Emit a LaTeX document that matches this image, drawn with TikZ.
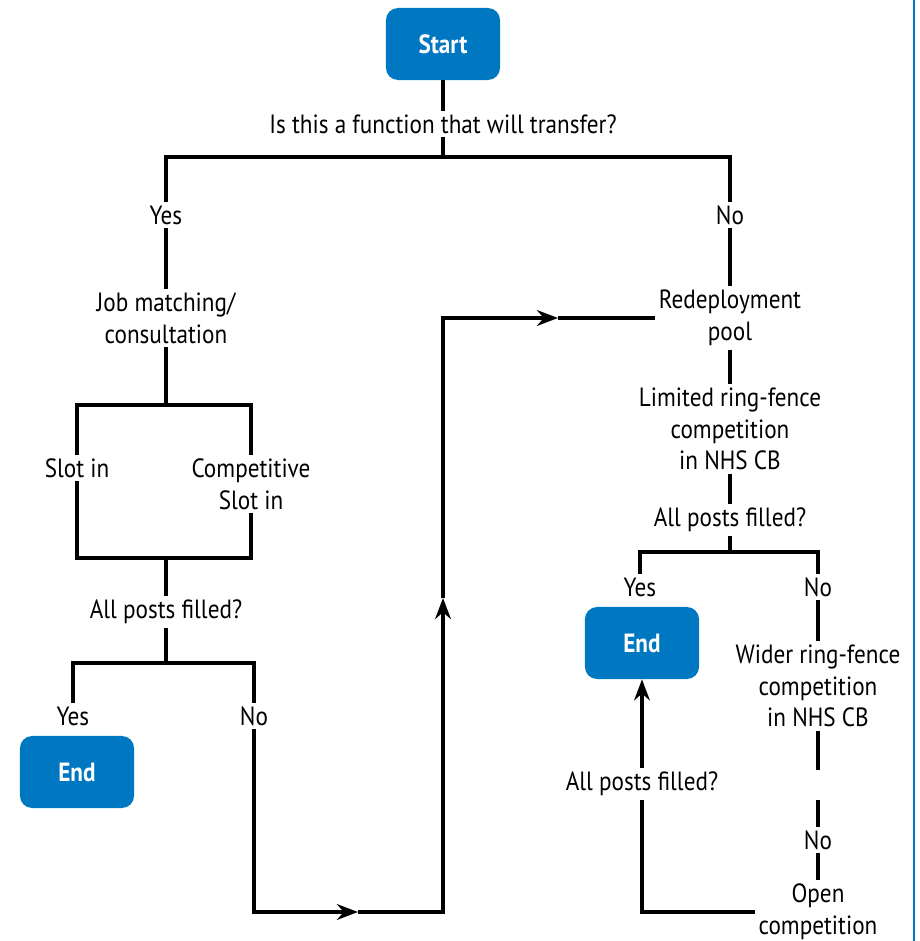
\documentclass[tikz,border=0pt]{standalone}
\usepackage{fontspec}
\setmainfont{PT Sans}[FakeStretch=0.88]
\usetikzlibrary{arrows.meta}
\definecolor{nhsblue}{RGB}{0,119,193}

\begin{document}
\begin{tikzpicture}
            [x=0.02cm, y=-0.02cm,
             every node/.style={font=\fontsize{15}{18}\selectfont, align=center, inner sep=2pt},
             end node/.style={rectangle, rounded corners=7pt, fill=nhsblue, text=white,
                              font=\fontsize{15}{18}\selectfont\bfseries,
                              minimum width=65pt, minimum height=41pt},
             line/.style={line width=1.8pt},
             arrow/.style={line, -{Stealth[length=12pt,width=9pt]}}]
            \useasboundingbox (0,0) rectangle (920,941);
            \draw[nhsblue, line width=1.6pt] (914,0) -- (914,941);

            % top question
            \node[end node] (start) at (443,44) {Start};
            \node (q1) at (443,124) {Is this a function that will transfer?};
            \coordinate (j1) at (443,157);
            \node (yes1) at (166,215) {Yes};
            \node (no1) at (730,215) {No};

            % left branch
            \node (job) at (166,318) {Job matching/\\consultation};
            \coordinate (j2) at (166,405);
            \coordinate (j3) at (166,558);
            \node (slot) at (77,468) {Slot in};
            \node (comp) at (251,484) {Competitive\\Slot in};
            \node (q2) at (166,612) {All posts filled?};
            \coordinate (j4) at (166,663);
            \node (yes2) at (73,716) {Yes};
            \node (no2) at (254,716) {No};
            \node[end node] (end1) at (77,772) {End};

            % loop back to the pool
            \coordinate (m1) at (358,912);
            \coordinate (m2) at (443,598);
            \coordinate (m3) at (558,318);

            % right branch
            \node (redep) at (730,318) {Redeployment\\pool};
            \node (limited) at (730,429) {Limited ring-fence\\competition\\in NHS CB};
            \node (q3) at (730,520) {All posts filled?};
            \coordinate (j5) at (730,552);
            \node (yes3) at (640,587) {Yes};
            \node (no3) at (818,587) {No};
            \node[end node] (end2) at (642,643) {End};
            \node (wider) at (818,686) {Wider ring-fence\\competition\\in NHS CB};
            \coordinate (g1) at (818,770);
            \coordinate (g2) at (818,800);
            \node (no4) at (818,840) {No};
            \node (open) at (818,912) {Open\\competition};
            \node (q4) at (642,784) {All posts filled?};

            \draw[line] (start) -- (q1);
            \draw[line] (q1) -- (j1);
            \draw[line] (yes1) |- (j1) -| (no1);

            \draw[line] (yes1) -- (job);
            \draw[line] (job) -- (j2);
            \draw[line] (slot) |- (j2) -| (comp);
            \draw[line] (slot) |- (j3) -| (comp);
            \draw[line] (j3) -- (q2);
            \draw[line] (q2) -- (j4);
            \draw[line] (yes2) |- (j4) -| (no2);

            \draw[arrow] (no2) |- (m1);
            \draw[arrow] (m1) -| (m2);
            \draw[arrow] (m2) |- (m3);
            \draw[line] (m3) -- (redep);

            \draw[line] (no1) -- (redep);
            \draw[line] (redep) -- (limited);
            \draw[line] (limited) -- (q3);
            \draw[line] (q3) -- (j5);
            \draw[line] (yes3) |- (j5) -| (no3);
            \draw[line] (no3) -- (wider);
            \draw[line] (wider) -- (g1);
            \draw[line] (g2) -- (no4);
            \draw[line] (no4) -- (open);
            \draw[line] (open) -| (q4);
            \draw[arrow] (q4) -- (end2);
         \end{tikzpicture}
\end{document}
